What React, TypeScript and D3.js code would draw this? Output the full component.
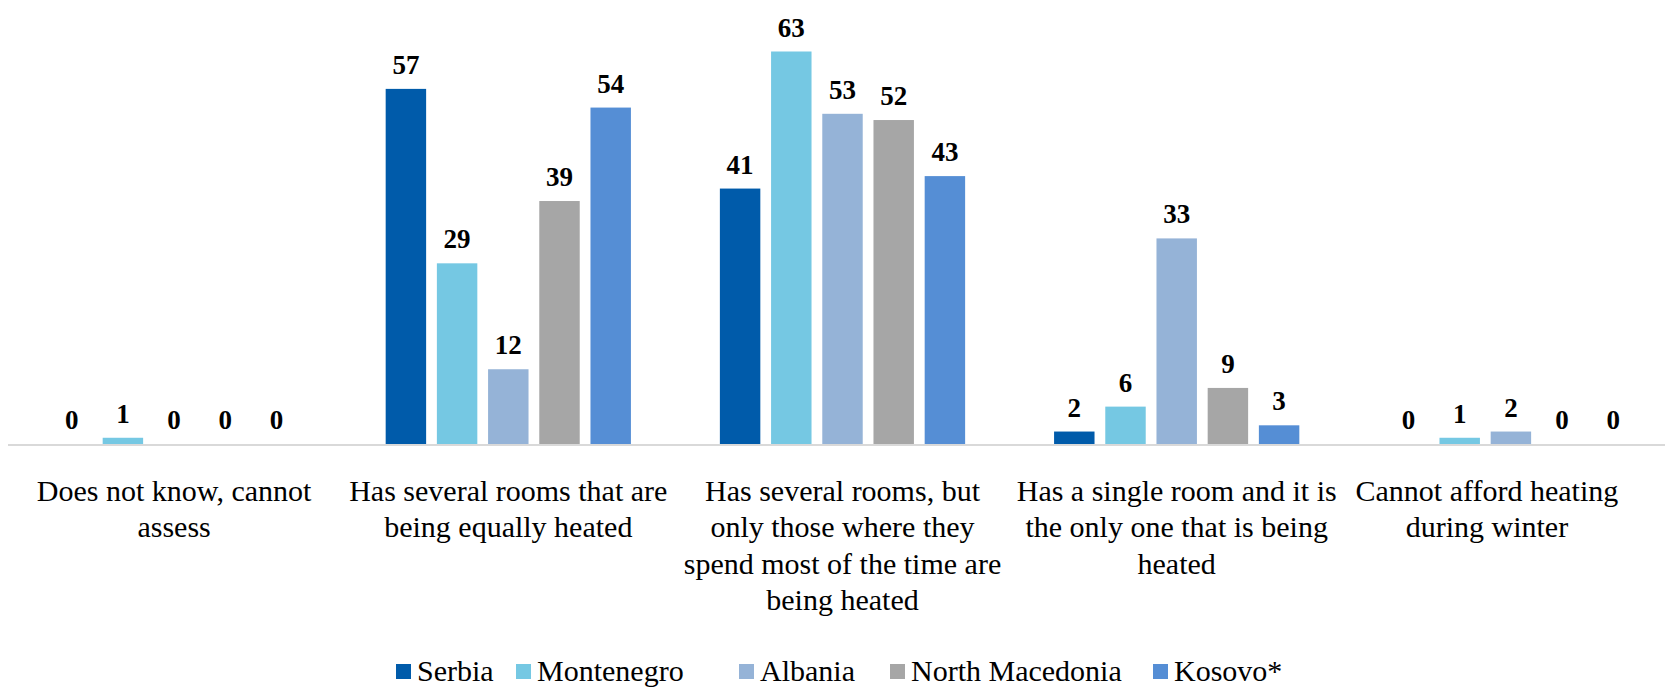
import React from "react";
import * as d3 from "d3";

const categories = [
  "Does not know, cannot assess",
  "Has several rooms that are being equally heated",
  "Has several rooms, but only those where they spend most of the time are being heated",
  "Has a single room and it is the only one that is being heated",
  "Cannot afford heating during winter",
];
const categoryLines = [
  ["Does not know, cannot", "assess"],
  ["Has several rooms that are", "being equally heated"],
  ["Has several rooms, but", "only those where they", "spend most of the time are", "being heated"],
  ["Has a single room and it is", "the only one that is being", "heated"],
  ["Cannot afford heating", "during winter"],
];
const seriesNames = ["Serbia", "Montenegro", "Albania", "North Macedonia", "Kosovo*"];
const serbia = [0, 57, 41, 2, 0];
const montenegro = [1, 29, 63, 6, 1];
const albania = [0, 12, 53, 33, 2];
const northMacedonia = [0, 39, 52, 9, 0];
const kosovo = [0, 54, 43, 3, 0];
const seriesValues = [serbia, montenegro, albania, northMacedonia, kosovo];
const colors = ["#005BAA", "#75C8E3", "#95B3D7", "#A6A6A6", "#558ED5"];

const W = 1665;
const H = 688;
const baseline = 444;
const yTop = 51.5;
const plotLeft = 7;
const catWidth = 334.2;
const groupWidth = 256;
const labelFont = "Liberation Serif";
const valueFont = "Liberation Serif";

export default function App() {
  const x0 = d3
    .scaleBand<string>()
    .domain(categories)
    .range([plotLeft, plotLeft + catWidth * categories.length])
    .padding(0);
  const x1 = d3
    .scaleBand<string>()
    .domain(seriesNames)
    .range([-groupWidth / 2, groupWidth / 2])
    .paddingInner(0.21)
    .paddingOuter(0.105);
  const y = d3.scaleLinear().domain([0, 63]).range([baseline, yTop]);

  const legendX = [396, 516, 739, 890, 1153];

  return (
    <svg
      width={W}
      height={H}
      style={{ position: "absolute", left: 0, top: 0, background: "#fff" }}
    >
      <rect x={0} y={0} width={W} height={H} fill="#fff" />
      {categories.map((c, ci) => {
        const cx = (x0(c) as number) + x0.bandwidth() / 2;
        return (
          <g key={c}>
            {seriesNames.map((s, si) => {
              const v = seriesValues[si][ci];
              const bx = cx + (x1(s) as number);
              const top = y(v);
              return (
                <g key={s}>
                  {v > 0 && (
                    <rect
                      x={bx}
                      y={top}
                      width={x1.bandwidth()}
                      height={baseline - top}
                      fill={colors[si]}
                    />
                  )}
                  <text
                    x={bx + x1.bandwidth() / 2}
                    y={top - 15}
                    textAnchor="middle"
                    style={{ fontFamily: valueFont, fontWeight: 700, fontSize: "27px" }}
                    fill="#000"
                  >
                    {v}
                  </text>
                </g>
              );
            })}
          </g>
        );
      })}
      <line x1={8} x2={W} y1={baseline + 1} y2={baseline + 1} stroke="#D9D9D9" strokeWidth={2} />
      {categories.map((c, ci) => {
        let cx = (x0(c) as number) + x0.bandwidth() / 2;
        if (ci === categories.length - 1) cx -= 24;
        return (
          <text
            key={c}
            x={cx}
            textAnchor="middle"
            style={{ fontFamily: labelFont, fontSize: "30px" }}
            fill="#000"
          >
            {categoryLines[ci].map((l, li) => (
              <tspan key={li} x={cx} y={501 + li * 36.4}>
                {l}
              </tspan>
            ))}
          </text>
        );
      })}
      {seriesNames.map((s, si) => (
        <g key={s}>
          <rect x={legendX[si]} y={664} width={15} height={15} fill={colors[si]} />
          <text
            x={legendX[si] + 21}
            y={681}
            style={{ fontFamily: labelFont, fontSize: "30px" }}
            fill="#000"
          >
            {s}
          </text>
        </g>
      ))}
    </svg>
  );
}
